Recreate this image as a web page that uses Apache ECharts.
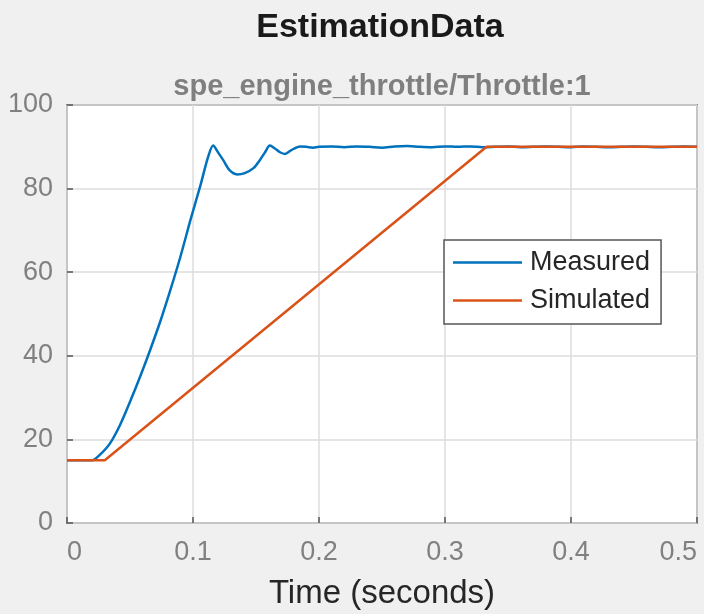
<!DOCTYPE html>
<html>
<head>
<meta charset="utf-8">
<title>EstimationData</title>
<script src="https://cdn.jsdelivr.net/npm/echarts@6/dist/echarts.min.js"></script>
<style>
  html, body { margin: 0; padding: 0; background: #f0f0f0; }
  #chart { width: 704px; height: 614px; }
</style>
</head>
<body>
<div id="chart"></div>
<script>
// Throttle position, measured on the engine
const measuredTime = [
  0, 0.01, 0.02, 0.026, 0.034, 0.042, 0.05, 0.058, 0.066, 0.074, 0.082, 0.09,
  0.098, 0.106, 0.112, 0.116, 0.12, 0.124, 0.129, 0.135, 0.141, 0.148, 0.153,
  0.157, 0.161, 0.165, 0.169, 0.173, 0.178, 0.185, 0.19, 0.195, 0.2,
  0.21, 0.22, 0.23, 0.24, 0.25, 0.26, 0.27, 0.28, 0.29, 0.3, 0.31, 0.32, 0.33,
  0.34, 0.35, 0.36, 0.37, 0.38, 0.39, 0.4, 0.41, 0.42, 0.43, 0.44, 0.45, 0.46,
  0.47, 0.48, 0.49, 0.5
];
const measuredValue = [
  15, 15, 15, 16.3, 19, 23.4, 29, 35, 41.4, 48.2, 55.7, 63.7,
  72.5, 80.9, 87.6, 90.3, 88.6, 86.8, 84.4, 83.4, 83.7, 84.9, 86.8,
  88.6, 90.3, 89.6, 88.7, 88.3, 89.2, 90.1, 90.0, 89.8, 90.0,
  90.1, 89.9, 90.1, 90.0, 89.8, 90.1, 90.2, 90.0, 89.9, 90.1, 90.0, 90.1, 89.9,
  90.0, 90.1, 89.9, 90.0, 90.1, 90.0, 89.9, 90.1, 90.0, 89.9, 90.0, 90.1, 90.0,
  89.9, 90.0, 90.1, 90.0
];

// Throttle position from the simulated model
const simulatedTime = [0, 0.03, 0.333, 0.5];
const simulatedValue = [15, 15, 90, 90];

const xTicks = [0, 0.1, 0.2, 0.3, 0.4, 0.5];
const yTicks = [0, 20, 40, 60, 80, 100];

const titleText = 'EstimationData';
const subtitleText = 'spe_engine_throttle/Throttle:1';
const seriesNames = ['Measured', 'Simulated'];

const pairs = (xs, ys) => xs.map((x, i) => [x, ys[i]]);

const FONT = '"Liberation Sans", Arial, Helvetica, sans-serif';
const chart = echarts.init(document.getElementById('chart'), null, { renderer: 'canvas' });

const grid = { left: 67, top: 105, width: 630, height: 418 };

chart.setOption({
  backgroundColor: '#f0f0f0',
  animation: false,
  textStyle: { fontFamily: FONT },
  graphic: [
    {
      type: 'text',
      x: grid.left + grid.width / 2 - 2,
      y: 28,
      style: {
        text: titleText,
        font: 'bold 34px ' + FONT,
        fill: '#1a1a1a',
        textAlign: 'center',
        textVerticalAlign: 'middle'
      }
    },
    {
      type: 'text',
      x: grid.left + grid.width / 2,
      y: 87,
      style: {
        text: subtitleText,
        font: 'bold 29px ' + FONT,
        fill: '#7f7f7f',
        textAlign: 'center',
        textVerticalAlign: 'middle'
      }
    }
  ],
  grid: Object.assign({
    show: true,
    backgroundColor: '#ffffff',
    borderColor: '#808080',
    borderWidth: 2,
    containLabel: false,
    outerBoundsMode: 'none'
  }, grid),
  legend: {
    data: seriesNames,
    orient: 'vertical',
    left: 444,
    top: 240,
    icon: 'rect',
    itemWidth: 69,
    itemHeight: 2.5,
    itemGap: 11,
    padding: [9, 11, 10, 9],
    backgroundColor: '#ffffff',
    borderColor: '#555555',
    borderWidth: 1.5,
    borderRadius: 0,
    textStyle: { fontSize: 27, color: '#262626', fontFamily: FONT, padding: [0, 0, 0, 3] }
  },
  xAxis: {
    type: 'value',
    min: xTicks[0],
    max: xTicks[xTicks.length - 1],
    interval: xTicks[1] - xTicks[0],
    name: 'Time (seconds)',
    nameLocation: 'middle',
    nameGap: 54,
    nameTextStyle: { fontSize: 33, color: '#262626', fontFamily: FONT },
    axisLine: { show: false },
    axisTick: { show: true, inside: true, length: 6, lineStyle: { color: '#555', width: 1.5 } },
    axisLabel: {
      fontSize: 27, color: '#808080', margin: 16, fontFamily: FONT,
      alignMinLabel: 'left',
      alignMaxLabel: 'right',
      formatter: v => String(+v.toFixed(1))
    },
    splitLine: { show: true, lineStyle: { color: '#dcdcdc', width: 1.5 } }
  },
  yAxis: {
    type: 'value',
    min: yTicks[0],
    max: yTicks[yTicks.length - 1],
    interval: yTicks[1] - yTicks[0],
    axisLine: { show: false },
    axisTick: { show: true, inside: true, length: 6, lineStyle: { color: '#555', width: 1.5 } },
    axisLabel: { fontSize: 27, color: '#808080', margin: 14, fontFamily: FONT },
    splitLine: { show: true, lineStyle: { color: '#dcdcdc', width: 1.5 } }
  },
  series: [
    {
      name: seriesNames[0],
      type: 'line',
      data: pairs(measuredTime, measuredValue),
      symbol: 'none',
      smooth: 0.3,
      lineStyle: { color: '#0072BD', width: 2.5 },
      itemStyle: { color: '#0072BD' }
    },
    {
      name: seriesNames[1],
      type: 'line',
      data: pairs(simulatedTime, simulatedValue),
      symbol: 'none',
      lineStyle: { color: '#D95319', width: 2.5 },
      itemStyle: { color: '#D95319' }
    }
  ]
});
</script>
</body>
</html>
